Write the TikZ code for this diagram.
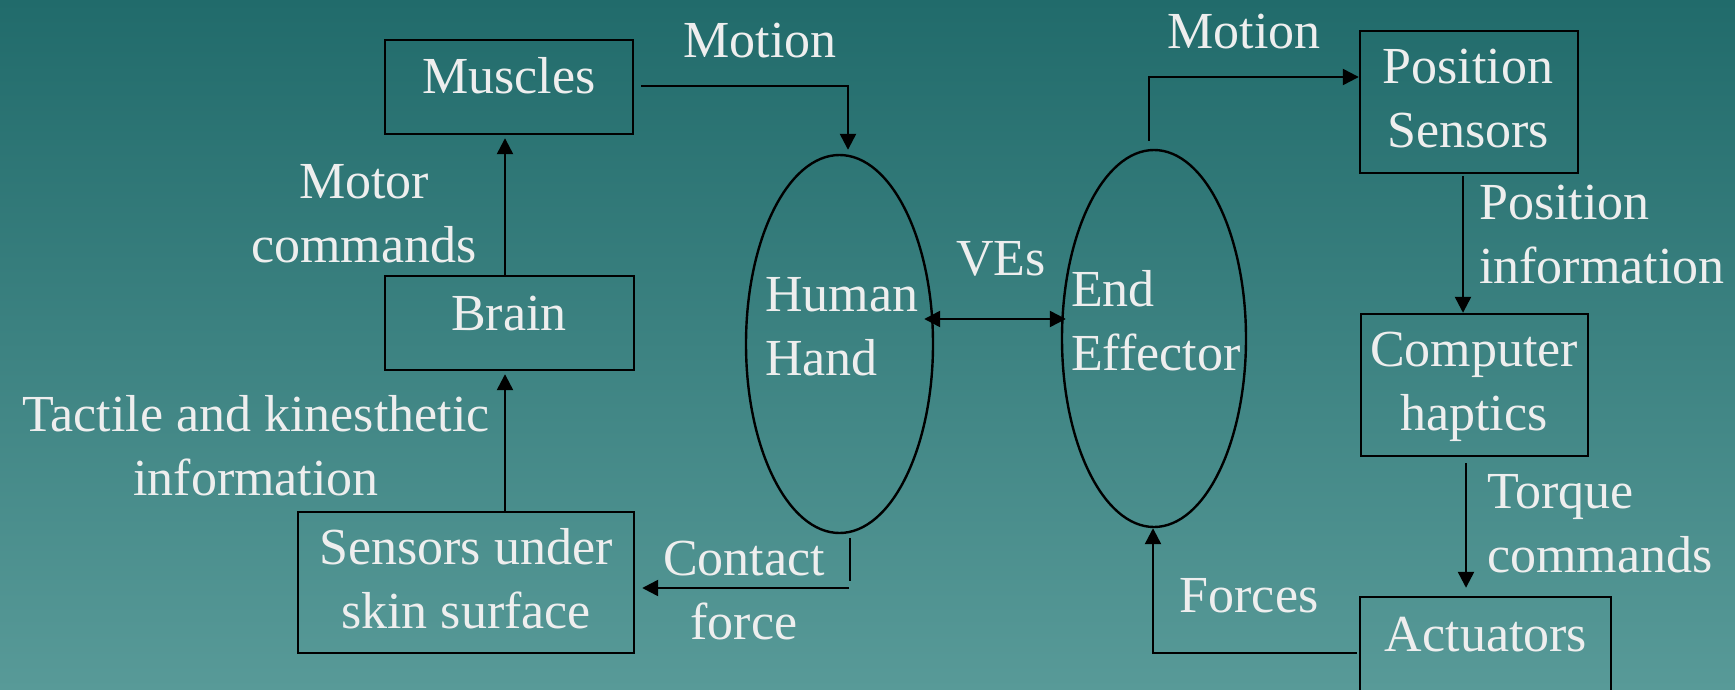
\documentclass[tikz,border=0pt]{standalone}
\usepackage{fontspec}
\setmainfont{Liberation Serif}
\usetikzlibrary{arrows.meta,shapes.geometric,calc}
\definecolor{bgtop}{RGB}{33,107,107}
\definecolor{bgbot}{RGB}{88,154,152}
\definecolor{txt}{RGB}{238,238,238}
\tikzset{
  box/.style={draw=black,line width=2.4pt,rectangle,inner sep=0pt},
  oval/.style={draw=black,line width=2.4pt,ellipse,inner sep=0pt},
  lbl/.style={text=txt,inner sep=0pt,font=\fontsize{52}{63.5}\selectfont},
  conn/.style={draw=black,line width=2.4pt},
  arr/.style={conn,-{Triangle[length=16pt,width=16pt]}},
  darr/.style={conn,{Triangle[length=16pt,width=16pt]}-{Triangle[length=16pt,width=16pt]}}
}
\begin{document}
\begin{tikzpicture}[x=1pt,y=-1pt]
\shade[top color=bgtop,bottom color=bgbot] (0,0) rectangle (1735,690);
\useasboundingbox (0,0) rectangle (1735,690);
\clip (0,0) rectangle (1735,690);
% boxes
\node[box,minimum width=248pt,minimum height=94pt] (muscles) at (509,87) {};
\node[box,minimum width=249pt,minimum height=94pt] (brain) at (509.5,323) {};
\node[box,minimum width=336pt,minimum height=141pt] (sensors) at (466,582.5) {};
\node[box,minimum width=218pt,minimum height=142pt] (possens) at (1469,102) {};
\node[box,minimum width=227pt,minimum height=142pt] (comp) at (1474.5,385) {};
\node[box,minimum width=251pt,minimum height=163pt] (act) at (1485.5,678.5) {};
\node[oval,minimum width=187pt,minimum height=378pt] (hand) at (839.5,344) {};
\node[oval,minimum width=184pt,minimum height=377pt] (endeff) at (1154,338.5) {};
% texts (base anchor = baseline of the last line)
\node[lbl,anchor=base] (tmuscles) at (509,94) {Muscles};
\node[lbl,anchor=base] (tbrain) at (509,330) {Brain};
\node[lbl,anchor=base,align=center] (tsensors) at (466,628) {Sensors under\\skin surface};
\node[lbl,anchor=base,align=center] (tpossens) at (1468,147) {Position\\Sensors};
\node[lbl,anchor=base,align=center] (tcomp) at (1474,430) {Computer\\haptics};
\node[lbl,anchor=base] (tact) at (1486,651) {Actuators};
\node[lbl,anchor=base west,align=left] (thand) at (765,375) {Human\\Hand};
\node[lbl,anchor=base west,align=left] (tend) at (1071,370) {End\\Effector};
\node[lbl,anchor=base] (tmotion1) at (760,58) {Motion};
\node[lbl,anchor=base] (tmotion2) at (1244,49) {Motion};
\node[lbl,anchor=base,align=center] (tmotor) at (364,262) {Motor\\commands};
\node[lbl,anchor=base,align=center] (ttactile) at (256,495) {Tactile and kinesthetic\\information};
\node[lbl,anchor=base,align=center] (tcontact) at (744,639) {Contact\\force};
\node[lbl,anchor=base] (tves) at (1001,275) {VEs};
\node[lbl,anchor=base west,align=left] (tposinfo) at (1479,283) {Position\\information};
\node[lbl,anchor=base west,align=left] (ttorque) at (1487,572) {Torque\\commands};
\node[lbl,anchor=base] (tforces) at (1249,612) {Forces};
% free ends
\coordinate (cfv) at (850,581);
\coordinate (cfh) at (849,588);
% connectors
\draw[arr] ([xshift=7pt,yshift=1pt]muscles.east) -| ([xshift=8.5pt,yshift=4pt]hand.north);
\draw[arr] ([xshift=-4.5pt]brain.north) -- ([xshift=-4pt,yshift=-3pt]muscles.south);
\draw[arr] ([xshift=-4.5pt]brain.south |- sensors.north) -- ([xshift=-4.5pt,yshift=-3pt]brain.south);
\draw[conn] ([xshift=10.5pt,yshift=-4pt]hand.south) -- (cfv);
\draw[arr] (cfh) -- ([xshift=7pt,yshift=-5.5pt]sensors.east);
\draw[darr] ([xshift=-10pt,yshift=25pt]hand.east) -- ([xshift=5pt,yshift=19.5pt]endeff.west);
\draw[arr] ([xshift=-5pt,yshift=8pt]endeff.north) |- ([yshift=25pt]possens.west);
\draw[arr] ([xshift=-6pt,yshift=-2pt]possens.south) -- ([xshift=-11.5pt]comp.north);
\draw[arr] ([xshift=-8.5pt,yshift=-6pt]comp.south) -- ([xshift=-19.5pt,yshift=8pt]act.north);
\draw[arr] ([xshift=-2pt,yshift=25.5pt]act.west) -| ([xshift=-1pt]endeff.south);
\end{tikzpicture}
\end{document}
